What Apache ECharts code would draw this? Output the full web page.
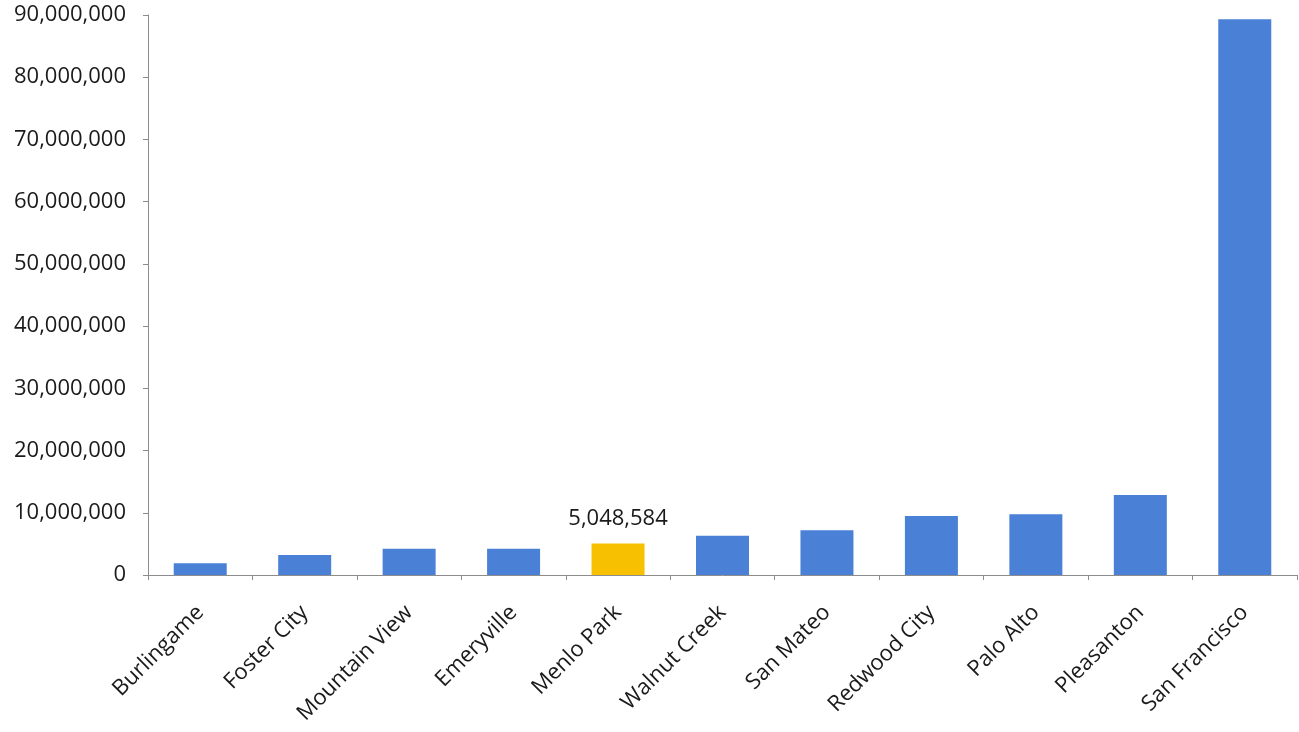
<!DOCTYPE html>
<html><head><meta charset="utf-8">
<script src="https://cdn.jsdelivr.net/npm/echarts@6/dist/echarts.min.js"></script>
<style>html,body{margin:0;padding:0;background:#fff}#c{width:1299px;height:732px}</style>
</head><body><div id="c"></div>
<script>
const categories = ["Burlingame","Foster City","Mountain View","Emeryville","Menlo Park","Walnut Creek","San Mateo","Redwood City","Palo Alto","Pleasanton","San Francisco"];
const values = [1900000,3200000,4200000,4200000,5048584,6300000,7200000,9500000,9750000,12850000,89300000];
const highlight = "Menlo Park";
const chart = echarts.init(document.getElementById('c'));
chart.setOption({
  animation:false,
  grid:{left:148,right:2,top:15,bottom:157,containLabel:false},
  xAxis:{type:'category',data:categories,
    axisLine:{lineStyle:{color:'#8c8c8c',width:1}},
    axisTick:{show:true,length:5,lineStyle:{color:'#8c8c8c'}},
    axisLabel:{rotate:45,color:'#1a1a1a',fontSize:22,fontFamily:'Open Sans',margin:34,interval:0}},
  yAxis:{type:'value',min:0,max:90000000,interval:10000000,
    splitLine:{show:false},
    axisLine:{show:true,lineStyle:{color:'#8c8c8c'}},
    axisTick:{show:true,length:5,lineStyle:{color:'#8c8c8c'}},
    axisLabel:{color:'#1a1a1a',fontSize:22,fontFamily:'Open Sans',margin:22,padding:[8,0,0,0],
      formatter:v=>v.toLocaleString('en-US')}},
  series:[{type:'bar',barWidth:53,
    data:categories.map((c,i)=>({value:values[i],
      itemStyle:{color:c===highlight?'#f7c001':'#4a80d6'},
      label:{show:c===highlight,position:'top',distance:14,color:'#1a1a1a',fontSize:22,fontFamily:'Open Sans',
        formatter:p=>p.value.toLocaleString('en-US')}}))}]
});
</script></body></html>
